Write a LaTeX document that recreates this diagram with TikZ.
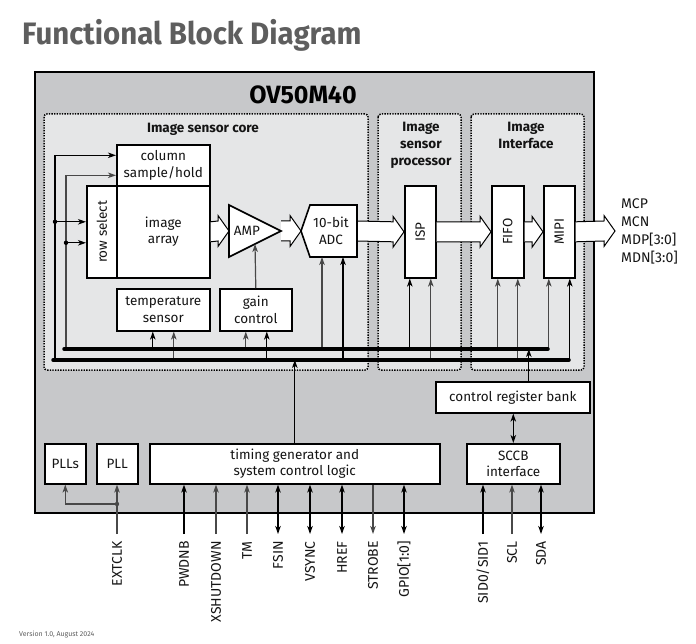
\documentclass[tikz,border=0pt]{standalone}
\usepackage{fontspec}
\setmainfont{Fira Sans}
\usetikzlibrary{calc,arrows.meta}
\definecolor{outerg}{HTML}{C7C8CA}
\definecolor{innerg}{HTML}{E5E6E7}
\definecolor{titleg}{HTML}{5E5E5E}
\definecolor{lg}{HTML}{484848}
\definecolor{txt}{HTML}{141414}
\newcommand\bigarrow[2]{%
  \filldraw[bigarr] ($(#1)+(0,-10)$) -- ($(#2)+(-11,-10)$) -- ($(#2)+(-11,-15.5)$) -- (#2)
    -- ($(#2)+(-11,15.5)$) -- ($(#2)+(-11,10)$) -- ($(#1)+(0,10)$);}
\newcommand\upfrom[4]{%
  \path (#1.south) ++(#2,0) coordinate (tmpc);
  \draw[ar,#4] (tmpc |- #3) -- (tmpc);}
\begin{document}
\begin{tikzpicture}[x=1pt,y=-1pt,
  blk/.style={draw=black,line width=1.6pt,fill=white,inner sep=0pt,align=center,anchor=north west,text=txt,font=\fontsize{13.5}{16.5}\selectfont},
  region/.style={draw=black,fill=innerg,line width=1.5pt,dash pattern=on 1.3pt off 1.3pt,rounded corners=3pt},
  tip/.tip={Stealth[length=8pt,width=5.5pt,inset=2.2pt]},
  ar/.style={-tip,line width=1.2pt},
  ra/.style={tip-,line width=1.2pt},
  dar/.style={tip-tip,line width=1.2pt},
  upg/.style={ar,draw=lg},
  rag/.style={ra,draw=lg},
  bus/.style={line width=3.5pt,line cap=round},
  pinlab/.style={rotate=90,anchor=east,inner sep=0pt,text=txt,font=\fontsize{14}{16}\selectfont},
  outlab/.style={anchor=base west,inner sep=0pt,text=txt,font=\fontsize{14}{16}\selectfont},
  reglab/.style={font=\bfseries\fontsize{13.5}{17}\selectfont,align=center,anchor=north,inner sep=0pt,text=txt},
  bigarr/.style={fill=white,draw=black,line width=1pt,line join=miter},
]
\useasboundingbox (0,0) rectangle (696,644);
\node[anchor=base west,font=\bfseries\fontsize{31}{31}\selectfont,text=titleg,inner sep=0pt] (title) at (22,45) {\scalebox{0.95}[1]{Functional Block Diagram}};
\draw[line width=2pt,fill=outerg] (35,72) rectangle (594,513);
\node[font=\bfseries\fontsize{25}{25}\selectfont,inner sep=0pt] (chip) at (303,95) {OV50M40};
% regions
\draw[region] (44,114) rectangle (368,370);
\draw[region] (378,114) rectangle (461,370);
\draw[region] (471,114) rectangle (584,370);
\node[reglab] (lcore) at (203,123) {Image sensor core};
\node[reglab] (lisp) at (421,122) {Image\\sensor\\processor};
\node[reglab] (lif) at (526,122) {Image\\Interface};
% boxes
\node[blk,minimum width=93pt,minimum height=41pt] (colsh) at (116,144) {column\\sample/hold};
\node[blk,minimum width=30pt,minimum height=92pt] (rowsel) at (86,185) {\rotatebox{90}{row select}};
\node[blk,minimum width=93pt,minimum height=92pt] (array) at (116,185) {image\\array};
\node[blk,minimum width=93pt,minimum height=42pt] (temp) at (116,288) {temperature\\sensor};
\node[blk,minimum width=72pt,minimum height=42pt] (gain) at (219,288) {gain\\control};
\node[blk,minimum width=31pt,minimum height=92pt] (isp) at (404,185) {\rotatebox{90}{ISP}};
\node[blk,minimum width=32pt,minimum height=92pt] (fifo) at (491,185) {\rotatebox{90}{FIFO}};
\node[blk,minimum width=31pt,minimum height=92pt] (mipi) at (543,185) {\rotatebox{90}{MIPI}};
\node[blk,minimum width=154pt,minimum height=31pt] (crb) at (435,381) {control register bank};
\node[blk,minimum width=41pt,minimum height=40pt] (plls) at (44,443) {PLLs};
\node[blk,minimum width=41pt,minimum height=40pt] (pll) at (96,443) {PLL};
\node[blk,minimum width=290pt,minimum height=40pt] (tg) at (149,443) {timing generator and\\system control logic};
\node[blk,minimum width=93pt,minimum height=40pt] (sccb) at (466,443) {SCCB\\interface};
% AMP and ADC anchor points
\coordinate (ampin) at (229,231);
\coordinate (ampout) at (281,231);
\coordinate (ampbot) at (255,244);
\coordinate (adcin) at (301,231);
\coordinate (adcout) at (357,231);
\coordinate (adcb1) at (322,257);
\coordinate (adcb2) at (343,257);
\coordinate (outend) at (615,231);
% block arrows
\bigarrow{array.east}{ampin}
\bigarrow{ampout}{adcin}
\bigarrow{adcout}{isp.west}
\bigarrow{isp.east}{fifo.west}
\bigarrow{fifo.east}{mipi.west}
\bigarrow{mipi.east}{outend}
% AMP and ADC shapes
\filldraw[fill=white,draw=black,line width=1.6pt,line join=miter] (229,205) -- (ampout) -- (229,257) -- cycle;
\node[inner sep=0pt,text=txt,font=\fontsize{13.5}{16.5}\selectfont] (amp) at (247,231) {AMP};
\filldraw[fill=white,draw=black,line width=1.6pt,line join=miter] (310,205) -- (357,205) -- (357,257) -- (310,257) -- (adcin) -- cycle;
\node[inner sep=0pt,align=center,text=txt,font=\fontsize{13.5}{16.5}\selectfont] (adc) at (331,231) {10-bit\\ADC};
\node[outlab] (mcp) at (621,209) {MCP};
\node[outlab] (mcn) at (621,227) {MCN};
\node[outlab] (mdp) at (621,245) {MDP[3:0]};
\node[outlab] (mdn) at (621,263) {MDN[3:0]};
% buses
\coordinate (busA1) at (64,349);
\coordinate (busA2) at (548,349);
\coordinate (busB1) at (53,360);
\coordinate (busB2) at (569,360);
% left feeders
\coordinate (fA) at (55,360);
\coordinate (fB) at (66,349);
\draw[ar] (fA) |- ($(colsh.west)+(0,-10)$);
\draw[upg] (fB) |- ($(colsh.west)+(0,10)$);
\coordinate (rs1) at ($(rowsel.west)+(0,-10)$);
\coordinate (rs2) at ($(rowsel.west)+(0,11)$);
\draw[ar] (fA |- rs1) -- (rs1);
\draw[ar] (fB |- rs2) -- (rs2);
\fill (fA |- rs1) circle (2.2);
\fill (fB |- rs2) circle (2.2);
% bus taps
\upfrom{temp}{-10.5}{busA1}{black}
\upfrom{temp}{10.5}{busB1}{lg}
\upfrom{gain}{-10}{busA1}{lg}
\upfrom{gain}{11}{busB1}{black}
\draw[ar,lg] (adcb1 |- busA1) -- (adcb1);
\draw[ar] (adcb2 |- busB1) -- (adcb2);
\upfrom{isp}{-10.5}{busA1}{black}
\upfrom{isp}{10.5}{busB1}{lg}
\upfrom{fifo}{-10}{busA1}{lg}
\upfrom{fifo}{10}{busB1}{lg}
\upfrom{mipi}{-10.5}{busA1}{lg}
\upfrom{mipi}{10.5}{busB1}{black}
\draw[ar,lg] (gain.north) -- (ampbot);
\draw[bus] (busA1) -- (busA2);
\draw[bus] (busB1) -- (busB2);
% control register bank, timing generator
\path (crb.north) ++(16,0) coordinate (crbt);
\draw[ar] (crbt) -- (crbt |- busA1);
\draw[dar] (sccb.north) -- (sccb.north |- crb.south);
\draw[ar] (tg.north) -- (tg.north |- busB1);
% clock
\coordinate (extclk) at (117,534);
\coordinate (pj) at (117,504);
\draw[ar,lg] (extclk) -- (extclk |- pll.south);
\draw[ar,lg] (pj) -| (plls.south);
\fill[lg] (pj) circle (2.2);
\node[pinlab] (extclkl) at (117,541) {EXTCLK};
% timing generator pins
\foreach \x/\nm/\lab/\sty in {184/pwdnb/PWDNB/ar, 216/xshut/XSHUTDOWN/upg, 247/tm/TM/upg, 278/fsin/FSIN/dar, 310/vsync/VSYNC/dar, 342/href/HREF/dar, 373/strobe/STROBE/rag, 404/gpio/{GPIO[1:0]}/dar}{
  \coordinate (\nm) at (\x,534);
  \draw[\sty] (\nm) -- (\nm |- tg.south);
  \node[pinlab] (\nm-l) at (\x,541) {\lab};
}
% SCCB pins
\coordinate (sid) at (483,534);
\coordinate (scl) at (512,534);
\coordinate (sda) at (541,534);
\draw[ar] (sid) -- (sid |- sccb.south);
\draw[upg] (scl) -- (scl |- sccb.south);
\draw[dar] (sda) -- (sda |- sccb.south);
\node[pinlab] (sidl) at (483,541) {SID0/SID1};
\node[pinlab] (scll) at (512,541) {SCL};
\node[pinlab] (sdal) at (541,541) {SDA};
\node[anchor=base west,inner sep=0pt,text=titleg,font=\fontsize{7}{8}\selectfont] (ver) at (19,636) {Version 1.0, August 2024};
\end{tikzpicture}
\end{document}
